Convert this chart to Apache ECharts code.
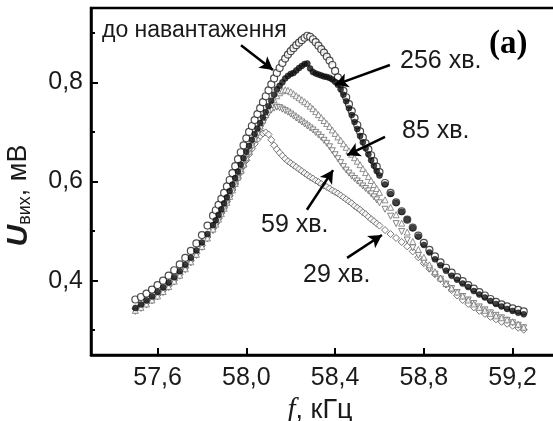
<!DOCTYPE html>
<html>
<head>
<meta charset="utf-8">
<script src="https://cdn.jsdelivr.net/npm/echarts@6/dist/echarts.min.js"></script>
<style>
html, body { margin: 0; padding: 0; background: #fff; }
#chart { width: 553px; height: 421px; }
</style>
</head>
<body>
<div id="chart"></div>
<script>
// frequency, kHz (finer step around the peak)
const freq = [
  57.5, 57.525, 57.55, 57.575, 57.6, 57.625, 57.65, 57.675, 57.7, 57.725, 57.75, 57.775, 57.8, 57.825,
  57.85, 57.8625, 57.875, 57.8875, 57.9, 57.9125, 57.925, 57.9375, 57.95, 57.9625, 57.975, 57.9875,
  58.0, 58.0125, 58.025, 58.0375, 58.05, 58.0625, 58.075, 58.0875, 58.1, 58.1125, 58.125, 58.1375,
  58.15, 58.1625, 58.175, 58.1875, 58.2, 58.2125, 58.225, 58.2375, 58.25, 58.2625, 58.275, 58.2875,
  58.3, 58.3125, 58.325, 58.3375, 58.35, 58.3625, 58.375, 58.3875, 58.4, 58.4125, 58.425, 58.4375,
  58.45, 58.4625, 58.475, 58.4875, 58.5, 58.5125, 58.525, 58.5375, 58.55, 58.5625, 58.575, 58.5875,
  58.6, 58.625, 58.65, 58.675, 58.7, 58.725, 58.75, 58.775, 58.8, 58.825, 58.85, 58.875, 58.9,
  58.925, 58.95, 58.975, 59.0, 59.025, 59.05, 59.075, 59.1, 59.125, 59.15, 59.175, 59.2, 59.225, 59.25
];

// U_out, mV
const before = [
  0.362, 0.367, 0.374, 0.382, 0.391, 0.400, 0.410, 0.421, 0.433, 0.446, 0.460, 0.475, 0.492, 0.511,
  0.531, 0.542, 0.553, 0.565, 0.577, 0.590, 0.603, 0.617, 0.631, 0.645, 0.659, 0.673,
  0.687, 0.700, 0.712, 0.724, 0.736, 0.748, 0.760, 0.772, 0.784, 0.796, 0.808, 0.819,
  0.829, 0.839, 0.848, 0.856, 0.863, 0.869, 0.875, 0.880, 0.885, 0.890, 0.894, 0.892,
  0.887, 0.881, 0.874, 0.867, 0.860, 0.852, 0.844, 0.835, 0.823, 0.810, 0.797, 0.783,
  0.770, 0.756, 0.742, 0.728, 0.714, 0.701, 0.689, 0.677, 0.665, 0.653, 0.641, 0.630,
  0.619, 0.597, 0.577, 0.558, 0.540, 0.523, 0.507, 0.491, 0.476, 0.462, 0.449, 0.437, 0.426,
  0.416, 0.407, 0.399, 0.391, 0.384, 0.377, 0.370, 0.363, 0.357, 0.352, 0.348, 0.344, 0.341, 0.338
];
const min256 = [
  0.345, 0.352, 0.360, 0.368, 0.377, 0.386, 0.396, 0.407, 0.419, 0.432, 0.446, 0.461, 0.477, 0.494,
  0.512, 0.522, 0.533, 0.544, 0.556, 0.568, 0.581, 0.594, 0.607, 0.620, 0.634, 0.647,
  0.660, 0.672, 0.684, 0.696, 0.707, 0.718, 0.729, 0.740, 0.752, 0.763, 0.775, 0.786,
  0.793, 0.800, 0.808, 0.813, 0.817, 0.819, 0.824, 0.829, 0.833, 0.837, 0.838, 0.828,
  0.821, 0.818, 0.816, 0.814, 0.812, 0.811, 0.809, 0.806, 0.801, 0.795, 0.786, 0.775,
  0.762, 0.748, 0.734, 0.720, 0.706, 0.692, 0.679, 0.667, 0.655, 0.643, 0.632, 0.621,
  0.612, 0.594, 0.575, 0.557, 0.539, 0.523, 0.506, 0.489, 0.472, 0.457, 0.443, 0.431, 0.420,
  0.410, 0.402, 0.394, 0.387, 0.379, 0.372, 0.366, 0.359, 0.353, 0.348, 0.343, 0.339, 0.335, 0.332
];
const min85 = [
  0.340, 0.346, 0.353, 0.361, 0.369, 0.378, 0.388, 0.399, 0.411, 0.424, 0.438, 0.453, 0.469, 0.486,
  0.504, 0.514, 0.524, 0.535, 0.546, 0.558, 0.570, 0.583, 0.596, 0.609, 0.622, 0.635,
  0.648, 0.661, 0.674, 0.687, 0.700, 0.712, 0.724, 0.735, 0.746, 0.756, 0.765, 0.773,
  0.779, 0.783, 0.785, 0.784, 0.781, 0.777, 0.773, 0.769, 0.765, 0.761, 0.757, 0.752,
  0.747, 0.741, 0.735, 0.729, 0.723, 0.717, 0.711, 0.704, 0.697, 0.690, 0.683, 0.676,
  0.669, 0.662, 0.655, 0.648, 0.641, 0.634, 0.626, 0.618, 0.610, 0.602, 0.594, 0.586,
  0.578, 0.563, 0.548, 0.533, 0.516, 0.498, 0.479, 0.463, 0.447, 0.432, 0.418, 0.405, 0.394,
  0.385, 0.377, 0.369, 0.361, 0.353, 0.346, 0.340, 0.334, 0.329, 0.325, 0.321, 0.317, 0.312, 0.306
];
const min59 = [
  0.338, 0.344, 0.351, 0.359, 0.367, 0.376, 0.386, 0.397, 0.409, 0.422, 0.436, 0.451, 0.467, 0.484,
  0.501, 0.511, 0.521, 0.532, 0.543, 0.555, 0.567, 0.580, 0.593, 0.606, 0.619, 0.631,
  0.644, 0.657, 0.670, 0.682, 0.694, 0.706, 0.717, 0.728, 0.737, 0.744, 0.748, 0.750,
  0.749, 0.746, 0.743, 0.740, 0.736, 0.732, 0.728, 0.724, 0.720, 0.716, 0.712, 0.708,
  0.704, 0.699, 0.694, 0.689, 0.683, 0.677, 0.670, 0.662, 0.654, 0.646, 0.638, 0.630,
  0.623, 0.617, 0.611, 0.606, 0.601, 0.596, 0.591, 0.586, 0.581, 0.575, 0.569, 0.563,
  0.557, 0.544, 0.530, 0.515, 0.499, 0.482, 0.466, 0.451, 0.437, 0.424, 0.413, 0.403, 0.393,
  0.384, 0.376, 0.368, 0.361, 0.354, 0.347, 0.341, 0.335, 0.330, 0.325, 0.320, 0.315, 0.310, 0.305
];
const min29 = [
  0.343, 0.349, 0.355, 0.363, 0.371, 0.380, 0.390, 0.401, 0.413, 0.426, 0.440, 0.455, 0.471, 0.488,
  0.505, 0.515, 0.525, 0.536, 0.547, 0.559, 0.571, 0.583, 0.595, 0.607, 0.619, 0.631,
  0.643, 0.655, 0.666, 0.676, 0.685, 0.692, 0.697, 0.699, 0.695, 0.684, 0.673, 0.665,
  0.658, 0.652, 0.646, 0.641, 0.637, 0.633, 0.629, 0.625, 0.621, 0.617, 0.613, 0.609,
  0.606, 0.602, 0.599, 0.595, 0.592, 0.589, 0.586, 0.582, 0.579, 0.576, 0.572, 0.568,
  0.564, 0.560, 0.556, 0.551, 0.547, 0.543, 0.538, 0.534, 0.529, 0.524, 0.520, 0.515,
  0.511, 0.502, 0.494, 0.486, 0.478, 0.469, 0.459, 0.447, 0.435, 0.424, 0.413, 0.403, 0.392,
  0.381, 0.370, 0.361, 0.353, 0.346, 0.339, 0.333, 0.327, 0.322, 0.317, 0.313, 0.309, 0.305, 0.301
];

const xTicks = [57.6, 58.0, 58.4, 58.8, 59.2];
const yTicks = [0.4, 0.6, 0.8];
const yMinorTicks = [0.3, 0.5, 0.7, 0.9];

// annotation arrows, data coords [from, to]
const arrows = [
  [[57.976, 0.875], [58.120, 0.825]],
  [[58.647, 0.835], [58.400, 0.795]],
  [[58.625, 0.690], [58.454, 0.653]],
  [[58.273, 0.543], [58.391, 0.623]],
  [[58.454, 0.446], [58.611, 0.492]]
];

const pairs = (arr) => freq.map((f, i) => [f, arr[i]]);
const comma = (v) => v.toFixed(1).replace('.', ',');
const FONT = 'Liberation Sans';
const INK = '#1a1a1a';

const chart = echarts.init(document.getElementById('chart'));

const label = (text, x, y, size) => ({
  type: 'text', x: x, y: y, silent: true,
  style: { text: text, font: (size || 25) + 'px "Liberation Sans"', fill: INK, verticalAlign: 'middle' }
});

chart.setOption({
  animation: false,
  backgroundColor: '#fff',
  grid: {
    left: 91, top: 8, width: 466, height: 347,
    show: true, borderColor: '#000', borderWidth: 2.5,
    containLabel: false, outerBoundsMode: 'none'
  },
  xAxis: {
    type: 'value', min: 57.3, max: 59.4,
    axisLine: { onZero: false, lineStyle: { color: '#000', width: 2.5 } },
    axisTick: { inside: true, length: 7, customValues: xTicks, lineStyle: { color: '#000', width: 2 } },
    axisLabel: { customValues: xTicks, formatter: comma, fontSize: 25, fontFamily: FONT, color: INK, margin: 11 },
    splitLine: { show: false },
    name: '{f|f}{n|, кГц}',
    nameLocation: 'middle',
    nameGap: 38,
    nameTextStyle: {
      padding: [0, 8, 0, 0],
      rich: {
        f: { fontFamily: 'Liberation Serif', fontStyle: 'italic', fontSize: 29, color: INK },
        n: { fontFamily: FONT, fontSize: 27, color: INK }
      }
    }
  },
  yAxis: [{
    type: 'value', min: 0.25, max: 0.95,
    axisLine: { onZero: false, lineStyle: { color: '#000', width: 2.5 } },
    axisTick: { inside: true, length: 7, customValues: yTicks, lineStyle: { color: '#000', width: 2 } },
    axisLabel: { customValues: yTicks, formatter: comma, fontSize: 25, fontFamily: FONT, color: INK, margin: 8 },
    splitLine: { show: false },
    name: '{u|U}{s|вих}{n|, мВ}',
    nameLocation: 'middle',
    nameGap: 57,
    nameTextStyle: {
      padding: [0, 28, 0, 0],
      rich: {
        u: { fontFamily: FONT, fontStyle: 'italic', fontWeight: 'bold', fontSize: 30, color: INK },
        s: { fontFamily: FONT, fontSize: 18, color: INK, verticalAlign: 'bottom', padding: [10, 0, 0, 0] },
        n: { fontFamily: FONT, fontSize: 27, color: INK }
      }
    }
  }, {
    type: 'value', min: 0.25, max: 0.95, position: 'left', offset: 0,
    axisLine: { show: false },
    axisTick: { inside: true, length: 4, customValues: yMinorTicks, lineStyle: { color: '#000', width: 2 } },
    axisLabel: { show: false },
    splitLine: { show: false }
  }],
  series: [
    {
      name: '29 хв.', type: 'scatter', data: pairs(min29),
      symbol: 'diamond', symbolSize: 7,
      itemStyle: { color: '#fff', borderColor: '#555', borderWidth: 1 }
    },
    {
      name: '59 хв.', type: 'scatter', data: pairs(min59),
      symbol: 'triangle', symbolRotate: 180, symbolSize: 6,
      itemStyle: { color: '#fff', borderColor: '#666', borderWidth: 1 }
    },
    {
      name: '85 хв.', type: 'scatter', data: pairs(min85),
      symbol: 'triangle', symbolSize: 6,
      itemStyle: { color: '#fff', borderColor: '#777', borderWidth: 1 }
    },
    {
      name: 'до навантаження', type: 'scatter', data: pairs(before),
      symbol: 'circle', symbolSize: 7,
      itemStyle: { color: '#fff', borderColor: '#222', borderWidth: 1.2 },
      markLine: {
        silent: true,
        symbol: ['none', 'arrow'],
        symbolSize: [11, 13],
        label: { show: false },
        lineStyle: { color: '#000', width: 2.5, type: 'solid' },
        data: arrows.map(a => [{ coord: a[0] }, { coord: a[1] }])
      }
    },
    {
      name: '256 хв.', type: 'scatter', data: pairs(min256),
      symbol: 'circle', symbolSize: 6,
      itemStyle: { color: '#111', borderColor: '#000', borderWidth: 0.5 }
    }
  ],
  graphic: [
    label('до навантаження', 102, 31, 23),
    label('256 хв.', 400, 61),
    label('85 хв.', 402, 131),
    label('59 хв.', 261, 225),
    label('29 хв.', 303, 275),
    {
      type: 'text', x: 489, y: 44, silent: true,
      style: { text: '(a)', font: 'bold 33px "Liberation Serif"', fill: '#000', verticalAlign: 'middle' }
    }
  ]
});
</script>
</body>
</html>
